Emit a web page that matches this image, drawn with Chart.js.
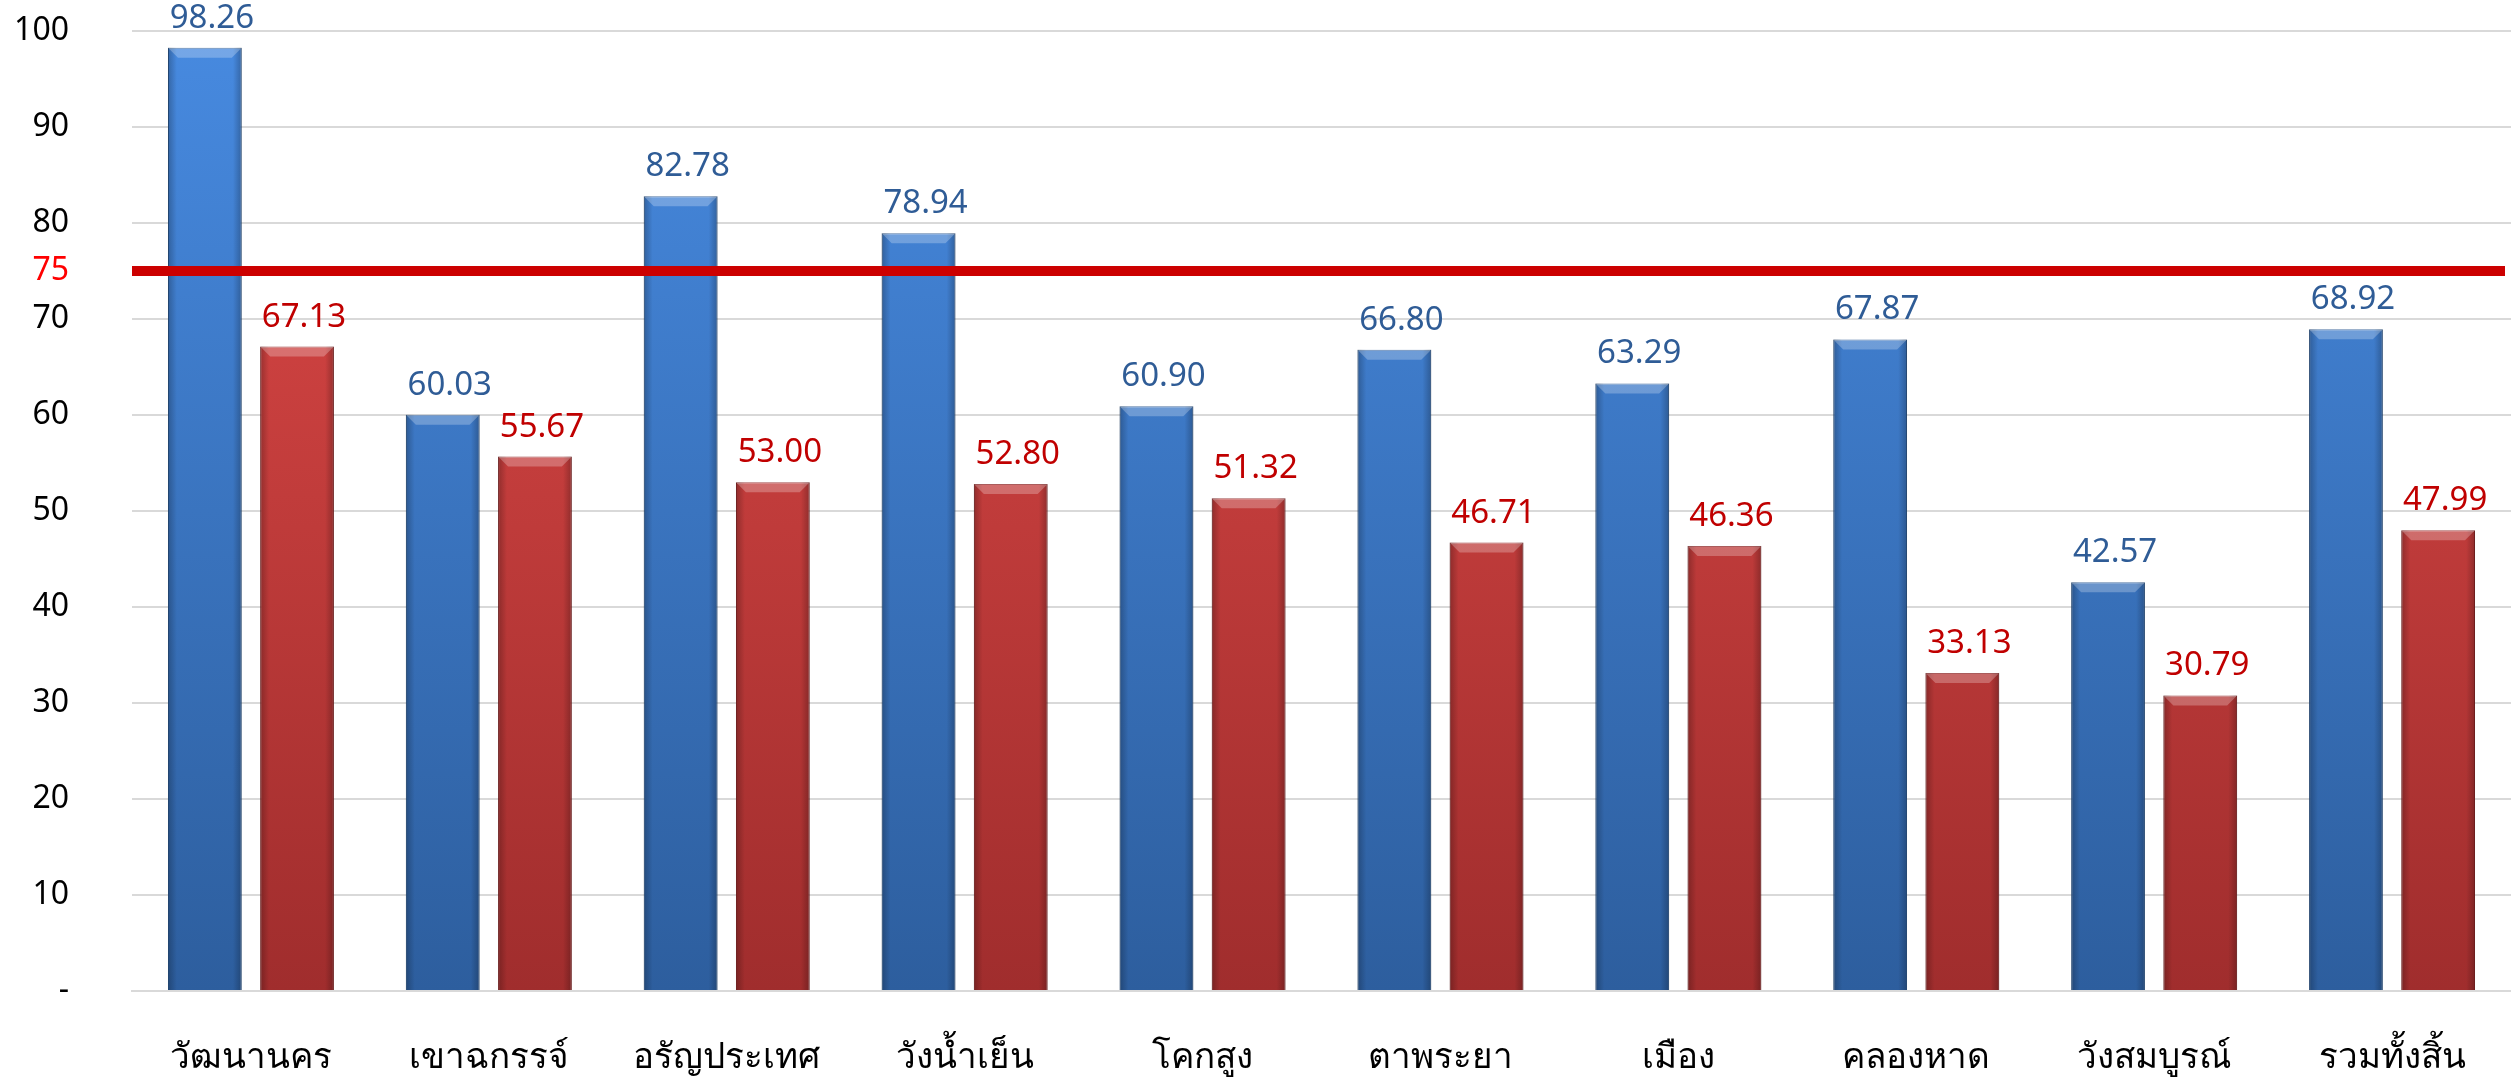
<!DOCTYPE html>
<html>
<head>
<meta charset="utf-8">
<script src="https://cdn.jsdelivr.net/npm/chart.js@4.4.1/dist/chart.umd.min.js"></script>
<style>
    html, body { margin: 0; padding: 0; background: #ffffff; }
    #caja { width: 2511px; height: 1082px; position: relative; }
</style>
</head>
<body>
<div id="caja"><canvas id="grafico"></canvas></div>
<script>
const distritos = ['วัฒนานคร', 'เขาฉกรรจ์', 'อรัญประเทศ', 'วังน้ำเย็น', 'โคกสูง', 'ตาพระยา', 'เมือง', 'คลองหาด', 'วังสมบูรณ์', 'รวมทั้งสิ้น'];
const serieAzul = [98.26, 60.03, 82.78, 78.94, 60.90, 66.80, 63.29, 67.87, 42.57, 68.92];
const serieRoja = [67.13, 55.67, 53.00, 52.80, 51.32, 46.71, 46.36, 33.13, 30.79, 47.99];
const ticksY = [0, 10, 20, 30, 40, 50, 60, 70, 75, 80, 90, 100];
const meta = 75;

const fuente = '"Noto Sans", "DejaVu Sans", sans-serif';

// degradado vertical para cada serie
function degradado(arriba, abajo) {
    return (context) => {
        const chart = context.chart;
        const area = chart.chartArea;
        if (!area) return arriba;
        const g = chart.ctx.createLinearGradient(0, area.top, 0, area.bottom);
        g.addColorStop(0, arriba);
        g.addColorStop(1, abajo);
        return g;
    };
}

// etiquetas de valor arriba de cada barra
const etiquetas = {
    id: 'etiquetas',
    afterDatasetsDraw(chart) {
        const ctx = chart.ctx;
        ctx.save();
        ctx.font = '33px ' + fuente;
        ctx.textAlign = 'center';
        ctx.textBaseline = 'alphabetic';
        chart.data.datasets.forEach((ds, i) => {
            ctx.fillStyle = ds.colorEtiqueta;
            chart.getDatasetMeta(i).data.forEach((barra, j) => {
                ctx.fillText(ds.data[j].toFixed(2), barra.x + 7, barra.y - 20);
            });
        });
        ctx.restore();
    }
};

// brillo lateral de las barras (efecto bisel)
const bisel = {
    id: 'bisel',
    afterDatasetsDraw(chart) {
        const ctx = chart.ctx;
        ctx.save();
        chart.data.datasets.forEach((ds, i) => {
            chart.getDatasetMeta(i).data.forEach(barra => {
                const izq = barra.x - barra.width / 2;
                const alto = barra.base - barra.y;
                const g = ctx.createLinearGradient(izq, 0, izq + barra.width, 0);
                g.addColorStop(0, 'rgba(0,0,0,0.25)');
                g.addColorStop(0.12, 'rgba(0,0,0,0)');
                g.addColorStop(0.88, 'rgba(0,0,0,0)');
                g.addColorStop(1, 'rgba(0,0,0,0.25)');
                ctx.fillStyle = g;
                ctx.fillRect(izq, barra.y, barra.width, alto);
                // franja clara arriba
                ctx.fillStyle = 'rgba(255,255,255,0.25)';
                ctx.beginPath();
                ctx.moveTo(izq, barra.y);
                ctx.lineTo(izq + barra.width, barra.y);
                ctx.lineTo(izq + barra.width - 10, barra.y + 10);
                ctx.lineTo(izq + 10, barra.y + 10);
                ctx.closePath();
                ctx.fill();
            });
        });
        ctx.restore();
    }
};

// linea roja de la meta
const lineaMeta = {
    id: 'lineaMeta',
    afterDatasetsDraw(chart) {
        const { ctx, chartArea, scales: { y } } = chart;
        const yy = y.getPixelForValue(meta);
        ctx.save();
        ctx.strokeStyle = '#CC0000';
        ctx.lineWidth = 10;
        ctx.beginPath();
        ctx.moveTo(chartArea.left, yy);
        ctx.lineTo(chartArea.right - 6, yy);
        ctx.stroke();
        ctx.restore();
    }
};

new Chart(document.getElementById('grafico').getContext('2d'), {
    type: 'bar',
    plugins: [bisel, lineaMeta, etiquetas],
    data: {
        labels: distritos,
        datasets: [{
            data: serieAzul,
            backgroundColor: degradado('#478AE0', '#2D5E9E'),
            borderColor: '#2C5A92',
            borderWidth: 1,
            colorEtiqueta: '#2F5C96',
            categoryPercentage: 0.775,
            barPercentage: 0.8
        }, {
            data: serieRoja,
            backgroundColor: degradado('#E04A48', '#A02D2D'),
            borderColor: '#8E2626',
            borderWidth: 1,
            colorEtiqueta: '#C00000',
            categoryPercentage: 0.775,
            barPercentage: 0.8
        }]
    },
    options: {
        responsive: true,
        maintainAspectRatio: false,
        animation: false,
        layout: { padding: { top: 31, right: 0, left: 0, bottom: 0 } },
        plugins: {
            legend: { display: false },
            tooltip: { enabled: false }
        },
        scales: {
            x: {
                afterFit: (escala) => { escala.height = 91; },
                grid: { display: false },
                border: { display: true, color: '#D9D9D9', width: 2 },
                ticks: {
                    color: '#000000',
                    padding: 38,
                    font: { family: fuente, size: 35 }
                }
            },
            y: {
                min: 0,
                max: 100,
                afterFit: (escala) => {
                    escala.width = 132;
                    // el padding de las etiquetas no debe empujar el area hacia abajo
                    escala.paddingTop = 20;
                    escala.paddingBottom = 20;
                },
                afterBuildTicks: (escala) => {
                    escala.ticks = ticksY.map(v => ({ value: v }));
                },
                grid: {
                    drawTicks: false,
                    lineWidth: 2,
                    color: (c) => c.tick && c.tick.value === meta ? 'rgba(0,0,0,0)' : '#D9D9D9'
                },
                border: { display: false },
                ticks: {
                    padding: 63,
                    color: (c) => c.tick && c.tick.value === meta ? '#FF0000' : '#000000',
                    font: { family: fuente, size: 32 },
                    callback: (v) => v === 0 ? '-' : v
                }
            }
        }
    }
});
</script>
</body>
</html>
